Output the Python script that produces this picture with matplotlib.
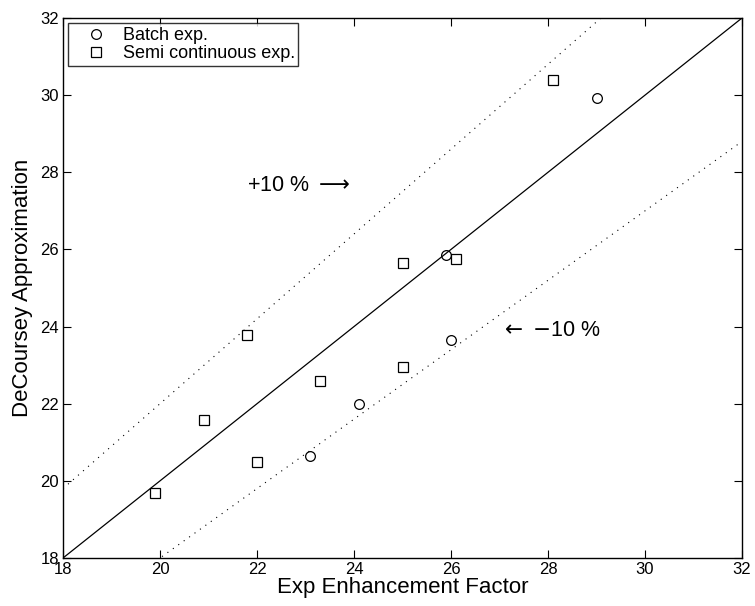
import numpy as np
import matplotlib
matplotlib.use('Agg')
import matplotlib.pyplot as plt

plt.rcParams['font.family'] = ['Liberation Sans', 'DejaVu Sans']

# Batch experiments
batch_x = [23.1, 24.1, 25.9, 26.0, 29.0]
batch_y = [20.65, 22.0, 25.85, 23.65, 29.92]

# Semi continuous experiments
semi_x = [19.9, 20.9, 21.8, 22.0, 23.3, 25.0, 25.0, 26.1, 28.1]
semi_y = [19.68, 21.58, 23.78, 20.5, 22.6, 25.65, 22.95, 25.75, 30.38]

ticks = [18, 20, 22, 24, 26, 28, 30, 32]

fig = plt.figure(figsize=(7.55, 6.06), dpi=100)
ax = fig.add_axes([63 / 755, 48 / 606, 679 / 755, 540 / 606])

# parity line and +/-10 % bands
line = np.array([18, 32])
ax.plot(line, line, color='black', linewidth=0.9)
ax.plot(line, 1.1 * line, color='black', linewidth=0.8, linestyle=(0, (1, 5)))
ax.plot(line, 0.9 * line, color='black', linewidth=0.8, linestyle=(0, (1, 5)))

ax.plot(batch_x, batch_y, 'o', markersize=7, markerfacecolor='none',
        markeredgecolor='black', markeredgewidth=0.9, label='Batch exp.')
ax.plot(semi_x, semi_y, 's', markersize=6.5, markerfacecolor='none',
        markeredgecolor='black', markeredgewidth=0.9, label='Semi continuous exp.')

ax.text(21.8, 27.67, r'+10 % $\longrightarrow$', fontsize=15.5, va='center', ha='left')
ax.text(27.0, 23.9, r'$\leftarrow$ $-$10 %', fontsize=15.5, va='center', ha='left')

ax.set_xlim(18, 32)
ax.set_ylim(18, 32)
ax.set_xticks(ticks)
ax.set_yticks(ticks)
ax.tick_params(direction='in', top=True, right=True, length=6, labelsize=12)
ax.tick_params(axis='x', pad=3)
ax.tick_params(axis='y', pad=3)
for s in ax.spines.values():
    s.set_linewidth(1.0)

ax.set_xlabel('Exp Enhancement Factor', fontsize=16, labelpad=0)
ax.set_ylabel('DeCoursey Approximation', fontsize=16, labelpad=5)

leg = ax.legend(loc='upper left', fontsize=13, frameon=True, fancybox=False,
                edgecolor='black', borderaxespad=0.3, handletextpad=0.2,
                borderpad=0.2, labelspacing=0.05, handlelength=2.6)
leg.get_frame().set_linewidth(1.0)

fig.savefig('out.png', dpi=100)
